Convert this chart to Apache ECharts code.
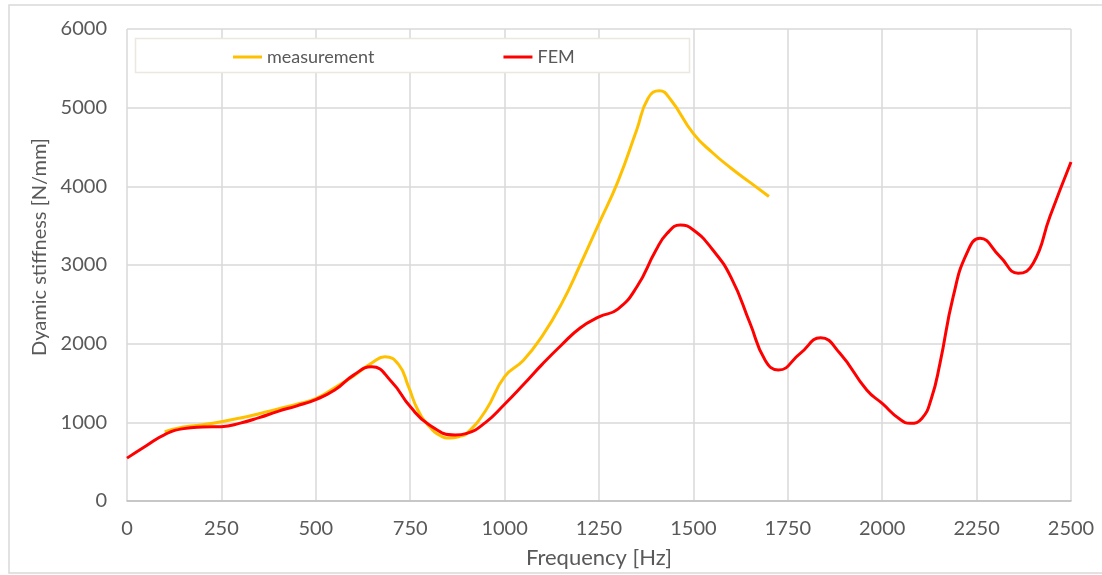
<!DOCTYPE html>
<html>
<head>
<meta charset="utf-8">
<script src="https://cdn.jsdelivr.net/npm/echarts@6/dist/echarts.min.js"></script>
<style>
html,body{margin:0;padding:0;background:#fff;}
#chart{width:1102px;height:575px;}
</style>
</head>
<body>
<div id="chart"></div>
<script>
// Measurement
const measFreq = [100,150,200,250,300,350,400,450,500,550,600,650,683,720,745,770,800,830,855,880,900,950,1000,1050,1100,1150,1200,1250,1300,1350,1380,1410,1440,1500,1550,1600,1650,1700];
const measValues = [880,940,970,1008,1055,1110,1170,1230,1300,1440,1590,1760,1835,1730,1460,1160,950,830,800,820,860,1150,1580,1790,2100,2500,3000,3530,4060,4720,5120,5216,5100,4670,4430,4230,4050,3870];
// FEM
const femFreq = [0,50,100,150,200,250,300,350,400,450,500,550,600,648,700,750,800,869,900,950,1000,1050,1100,1150,1200,1250,1300,1350,1400,1430,1465,1500,1550,1600,1650,1690,1725,1783,1837,1888,1959,2000,2047,2074,2105,2130,2153,2188,2224,2259,2312,2360,2400,2444,2500];
const femValues = [545,700,845,920,940,945,990,1060,1140,1210,1290,1410,1600,1707,1520,1200,970,839,860,1000,1230,1480,1740,1980,2200,2340,2440,2720,3180,3400,3508,3445,3200,2840,2260,1790,1665,1877,2075,1877,1411,1240,1038,988,1050,1300,1750,2597,3148,3339,3106,2894,3021,3614,4310];

const xTicks = {min:0, max:2500, interval:250};
const yTicks = {min:0, max:6000, interval:1000};

const seriesNames = ['measurement','FEM'];

const zip = (xs, ys) => xs.map((x,i)=>[x, ys[i]]);

const chart = echarts.init(document.getElementById('chart'));
const font = 'Lato';
const txt = '#595959';
chart.setOption({
  animation:false,
  backgroundColor:'#fff',
  grid:{left:127, right:31, top:29, bottom:74},
  graphic:[
    {type:'rect', shape:{x:9,y:5,width:1100,height:568}, style:{fill:'none', stroke:'#d9d9d9', lineWidth:1.5}, z:0},
    {type:'rect', shape:{x:135.5,y:38.5,width:554,height:34}, style:{fill:'#fff', stroke:'#ebe8df', lineWidth:1.5}, z:3}
  ],
  legend:{
    left:228, top:43, itemGap:129, itemWidth:29, itemHeight:3, icon:'rect',
    textStyle:{fontFamily:font, fontSize:18, color:txt},
    data:seriesNames, z:10
  },
  xAxis:{
    type:'value', min:xTicks.min, max:xTicks.max, interval:xTicks.interval,
    name:'Frequency [Hz]', nameLocation:'middle', nameGap:46,
    nameTextStyle:{fontFamily:font, fontSize:22, color:txt},
    axisLine:{show:true, onZero:false, lineStyle:{color:'#bfbfbf', width:1.5}},
    axisTick:{show:false},
    axisLabel:{fontFamily:font, fontSize:20, color:txt, margin:18, formatter:v=>String(v)},
    splitLine:{show:true, lineStyle:{color:'#d9d9d9', width:1.5}}
  },
  yAxis:{
    type:'value', min:yTicks.min, max:yTicks.max, interval:yTicks.interval,
    name:'Dyamic stiffness [N/mm]', nameLocation:'middle', nameGap:72,
    nameTextStyle:{fontFamily:font, fontSize:20, color:txt, padding:[0,0,0,36]},
    axisLine:{show:false},
    axisTick:{show:false},
    axisLabel:{fontFamily:font, fontSize:20, color:txt, margin:20, formatter:v=>String(v)},
    splitLine:{show:true, lineStyle:{color:'#d9d9d9', width:1.5}}
  },
  series:[
    {name:seriesNames[0], type:'line', data:zip(measFreq, measValues), smooth:0.5, symbol:'none',
     lineStyle:{color:'#FFC000', width:3}, itemStyle:{color:'#FFC000'}},
    {name:seriesNames[1], type:'line', data:zip(femFreq, femValues), smooth:0.5, symbol:'none',
     lineStyle:{color:'#FF0000', width:3}, itemStyle:{color:'#FF0000'}}
  ]
});
</script>
</body>
</html>
